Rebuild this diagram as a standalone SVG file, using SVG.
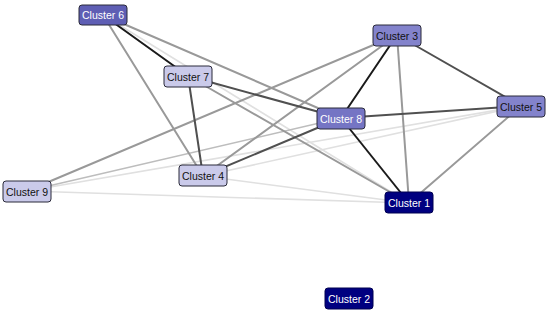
<svg xmlns="http://www.w3.org/2000/svg" width="550" height="316" viewBox="0 0 550 316">
<style>
.e{fill:none;stroke-linecap:round}
.k{stroke:#1a1a1a;stroke-width:2}
.d{stroke:#505050;stroke-width:2}
.g{stroke:#999;stroke-width:2}
.l{stroke:#bdbdbd;stroke-width:1.6}
.v{stroke:#e0e0e0;stroke-width:1.6}
.n rect{stroke:#2a2a3a;stroke-width:1;rx:3;ry:3}
.n text{font-family:"Liberation Sans","DejaVu Sans",sans-serif;font-size:10.5px;text-anchor:middle;dominant-baseline:central}
.c1 rect{fill:#000080;stroke:#000050}.c1 text{fill:#fff}
.c2 rect{fill:#5e5eb4}.c2 text{fill:#fff}
.c3 rect{fill:#7575c4}.c3 text{fill:#fff}
.c4 rect{fill:#8383cc}.c4 text{fill:#111}
.c5 rect{fill:#cacaea}.c5 text{fill:#111}
</style>
<rect width="550" height="316" fill="#fff"/>
<g id="connectors">
<line class="e v" x1="103" y1="15" x2="409" y2="203"/>
<line class="e v" x1="27" y1="191" x2="521" y2="106"/>
<line class="e v" x1="203" y1="176" x2="521" y2="106"/>
<line class="e v" x1="27" y1="191" x2="409" y2="203"/>
<line class="e v" x1="203" y1="176" x2="409" y2="203"/>
<line class="e l" x1="27" y1="191" x2="341" y2="118"/>
<line class="e g" x1="103" y1="15" x2="203" y2="176"/>
<line class="e g" x1="103" y1="15" x2="341" y2="118"/>
<line class="e g" x1="397" y1="35" x2="409" y2="203"/>
<line class="e g" x1="397" y1="35" x2="203" y2="176"/>
<line class="e g" x1="397" y1="35" x2="27" y2="191"/>
<line class="e g" x1="188" y1="76" x2="409" y2="203"/>
<line class="e g" x1="521" y1="106" x2="409" y2="203"/>
<line class="e d" x1="397" y1="35" x2="521" y2="106"/>
<line class="e d" x1="341" y1="118" x2="521" y2="106"/>
<line class="e d" x1="341" y1="118" x2="203" y2="176"/>
<line class="e d" x1="188" y1="76" x2="341" y2="118"/>
<line class="e d" x1="188" y1="76" x2="203" y2="176"/>
<line class="e k" x1="103" y1="15" x2="188" y2="76"/>
<line class="e k" x1="397" y1="35" x2="341" y2="118"/>
<line class="e k" x1="341" y1="118" x2="409" y2="203"/>
</g>
<g id="cluster6" class="n c2"><rect x="79" y="5" width="48" height="20"/><text x="103" y="15">Cluster 6</text></g>
<g id="cluster7" class="n c5"><rect x="164" y="66" width="48" height="21"/><text x="188" y="76.5">Cluster 7</text></g>
<g id="cluster3" class="n c4"><rect x="373" y="25" width="48" height="21"/><text x="397" y="35.5">Cluster 3</text></g>
<g id="cluster5" class="n c4"><rect x="497" y="96" width="48" height="21"/><text x="521" y="106.5">Cluster 5</text></g>
<g id="cluster8" class="n c3"><rect x="317" y="108" width="48" height="21"/><text x="341" y="118.5">Cluster 8</text></g>
<g id="cluster9" class="n c5"><rect x="3" y="181" width="48" height="21"/><text x="27" y="191.5">Cluster 9</text></g>
<g id="cluster4" class="n c5"><rect x="179" y="165" width="48" height="21"/><text x="203" y="175.5">Cluster 4</text></g>
<g id="cluster1" class="n c1"><rect x="385" y="192" width="48" height="21"/><text x="409" y="202.5">Cluster 1</text></g>
<g id="cluster2" class="n c1"><rect x="325" y="288" width="48" height="21"/><text x="349" y="298.5">Cluster 2</text></g>
</svg>
